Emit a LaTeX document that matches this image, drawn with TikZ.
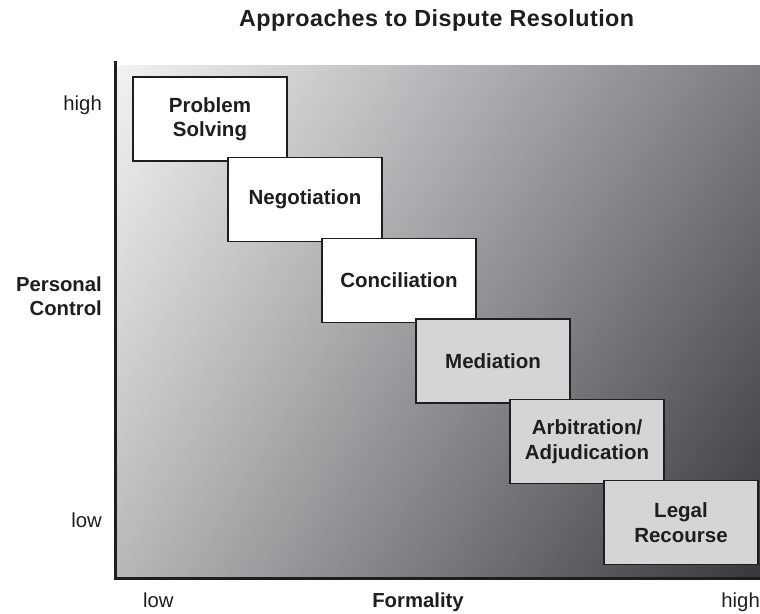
\documentclass[tikz,border=0pt]{standalone}
\usepackage{fontspec}
\setmainfont{Liberation Sans}
\usetikzlibrary{shadings}
\definecolor{tl}{HTML}{F2F2F3}
\definecolor{tr}{HTML}{7C7D82}
\definecolor{bl}{HTML}{B8B8BB}
\definecolor{br}{HTML}{38383C}
\definecolor{boxgray}{HTML}{D5D5D7}
\definecolor{ink}{HTML}{1E1E1E}
\begin{document}
\begin{tikzpicture}[x=1pt,y=-1pt,
  stage/.style={draw=ink, line width=1.5pt, minimum width=154pt, minimum height=84pt,
    inner sep=0pt, align=center, font=\fontsize{20.5}{24.5}\selectfont\bfseries, text=ink},
  white stage/.style={stage, fill=white},
  gray stage/.style={stage, fill=boxgray},
  lab/.style={font=\fontsize{20.3}{24.5}\selectfont, text=ink, inner sep=0pt},
  blab/.style={lab, font=\fontsize{20.3}{24.5}\selectfont\bfseries},
  axisline/.style={draw=ink, line width=3.2pt}]
\useasboundingbox (0,0) rectangle (760,613);
\shade[upper left=tl, upper right=tr, lower left=bl, lower right=br] (116,65) rectangle (760,578);
\node[white stage] (ps) at (210,119) {Problem\\Solving};
\node[white stage] (neg) at (305,199.5) {Negotiation};
\node[white stage] (con) at (399,280.5) {Conciliation};
\node[gray stage] (med) at (493,361) {Mediation};
\node[gray stage] (arb) at (587,441.5) {Arbitration/\\Adjudication};
\node[gray stage] (leg) at (681,522.5) {Legal\\Recourse};
\coordinate (otop) at (115.5,63);
\coordinate (orig) at (115.5,578.5);
\coordinate (xend) at (760,578.5);
\draw[axisline, line cap=rect] (otop) -- (orig) -- (xend);
\node[blab, anchor=base west] (title) at (239,26) {\fontsize{23.3}{27}\selectfont\addfontfeature{LetterSpace=2}Approaches to Dispute Resolution};
\node[lab, anchor=base east] (yhigh) at (102,110) {high};
\node[lab, anchor=base east] (ylow) at (102,527) {low};
\node[blab, anchor=east, align=right] (ylab) at (102,296) {Personal\\Control};
\node[lab, anchor=base west] (xlow) at (143,607) {low};
\node[blab, anchor=base] (xlab) at (418,607) {Formality};
\node[lab, anchor=base east] (xhigh) at (760,607) {high};
\end{tikzpicture}
\end{document}
